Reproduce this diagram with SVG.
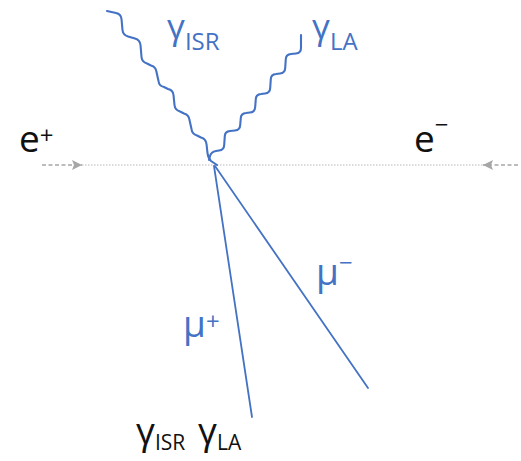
<svg xmlns="http://www.w3.org/2000/svg" width="521" height="461" viewBox="0 0 521 461">
<defs>
<style>
.photon{fill:none;stroke:#4472C4;stroke-width:2.1;stroke-linejoin:round;stroke-linecap:round}
.muon{fill:none;stroke:#4472C4;stroke-width:1.8;stroke-linecap:round}
.beam{fill:none;stroke:#a6a6a6;stroke-width:1.5;stroke-dasharray:4 2.5}
.beamdot{fill:none;stroke:#d0d0d0;stroke-width:1.5;stroke-dasharray:1.5 1.5}
text{font-family:"Open Sans","DejaVu Sans",sans-serif;font-size:37px}
.top{font-size:35px}
.blue{fill:#4472C4}
.blk{fill:#111}
.sub{font-size:24px}
.sub2{font-size:21px}
</style>
<marker id="ah" viewBox="0 0 10 10" refX="10" refY="5" markerWidth="10" markerHeight="10" markerUnits="userSpaceOnUse" orient="auto"><path d="M0,0 L10,5 L0,10 L2,5 Z" fill="#a6a6a6"/></marker>
</defs>
<rect width="521" height="461" fill="#fff"/>
<g id="connectors">
<line class="beam" x1="42" y1="165" x2="82" y2="165" marker-end="url(#ah)"/>
<line class="beamdot" x1="82" y1="165" x2="483" y2="165"/>
<line class="beam" x1="518" y1="165" x2="483" y2="165" marker-end="url(#ah)"/>
<path id="photon-isr" class="photon" d="M107,11 L116,13 Q121,14 121.5,19 L122.5,30 Q123,35 128,36.5 L135,38.5 Q140,40 140.5,45 L141.5,57 Q142,62 147,63.5 L151,65.5 Q156,67 156.5,72 L158.5,81 Q159,86 164,87 L168,89 Q173,90 173.5,95 L174.5,105 Q175,110 180,111.5 L184,113.5 Q189,115 189.5,120 L191.5,129 Q192,134 197,135.5 L201,137.5 Q206,139 206.5,144 L207.5,153 Q208,158 211,161 L217,165"/>
<path id="photon-la" class="photon" d="M301,35 L301,48 Q301,53 296,53.5 L291,54 Q286,54.5 285.8,59 L285.2,68 Q285,73 280,73.5 L276,74 Q271,74.5 270.8,79 L270.2,88 Q270,93 265,93.5 L261,94 Q256,94.5 255.8,99 L255.2,107 Q255,112 250,112.5 L246,113 Q241,113.5 240.8,118 L240.2,125 Q240,130 235,130.5 L230,131 Q225,131.5 224.8,136 L224.2,145 Q224,150 219,150.5 L216,151 Q211,152 210,156 L209,160"/>
<line id="muon-plus" class="muon" x1="214" y1="166" x2="252" y2="417"/>
<line id="muon-minus" class="muon" x1="215" y1="166" x2="368" y2="388"/>
</g>
<g id="e-plus"><text class="blk" x="19" y="152">e<tspan class="sub" dy="-8">+</tspan></text></g>
<g id="e-minus"><text class="blk" x="414" y="152">e<tspan class="sub" dy="-19">−</tspan></text></g>
<g id="gamma-isr"><text class="blue top" x="167" y="39">γ<tspan class="sub" dy="11">ISR</tspan></text></g>
<g id="gamma-la"><text class="blue top" x="312" y="39">γ<tspan class="sub" dy="11">LA</tspan></text></g>
<g id="mu-minus"><text class="blue" x="316" y="285">μ<tspan class="sub" dy="-14">−</tspan></text></g>
<g id="mu-plus"><text class="blue" x="183" y="337">μ<tspan class="sub" dy="-7">+</tspan></text></g>
<g id="final-state"><text class="blk" x="136" y="444">γ<tspan class="sub2" dy="6">ISR</tspan><tspan x="198" dy="-6">γ</tspan><tspan class="sub2" dy="6">LA</tspan></text></g>
</svg>
